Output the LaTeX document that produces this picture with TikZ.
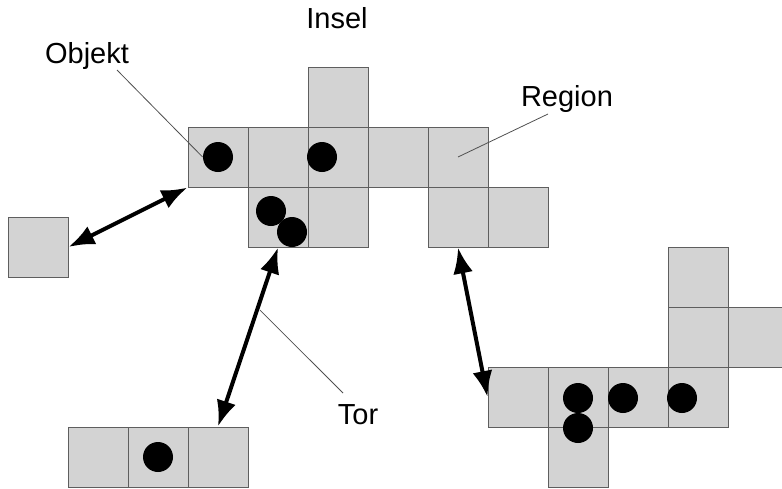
\documentclass[tikz,border=0pt]{standalone}
\usepackage{fontspec}
\setmainfont{Liberation Sans}
\usepackage{tikz}
\usetikzlibrary{arrows.meta, calc}
\definecolor{cellFill}{HTML}{D3D3D3}
\definecolor{cellLine}{HTML}{5E5E5E}
\definecolor{leaderLine}{HTML}{505050}

\begin{document}
\begin{tikzpicture}[
	x=0.5pt, y=-0.5pt,
	cell/.style={rectangle, draw=cellLine, fill=cellFill, line width=0.5pt, minimum size=30pt, inner sep=0pt},
	obj/.style={circle, fill=black, minimum size=15pt, inner sep=0pt},
	arrow/.style={{Latex[length=13pt,width=10pt]}-{Latex[length=13pt,width=10pt]}, line width=2pt},
	leader/.style={leaderLine, line width=0.4pt},
	lbl/.style={font=\fontsize{14.5}{17}\selectfont, anchor=base, inner sep=0pt}
	]
	
	\useasboundingbox (0,0) rectangle (782,488);
	
	% Insel
	\foreach \n/\x/\y in {i1/218/157, i2/278/157, i3/338/157, i4/398/157, i5/458/157,
		i6/338/97, i7/278/217, i8/338/217, i9/458/217, i10/518/217}
		\node[cell] (\n) at (\x,\y) {};
	
	% single cell
	\node[cell] (solo) at (38,247) {};
	
	% lower left
	\foreach \n/\x/\y in {b1/98/457, b2/158/457, b3/218/457}
		\node[cell] (\n) at (\x,\y) {};
	
	% right
	\foreach \n/\x/\y in {r1/698/277, r2/698/337, r3/758/337, r4/518/397,
		r5/578/397, r6/638/397, r7/698/397, r8/578/457}
		\node[cell] (\n) at (\x,\y) {};
	
	% Objekte
	\node[obj] (o1) at (218,157) {};
	\node[obj] (o2) at (322,157) {};
	\node[obj] (o3) at (271,211) {};
	\node[obj] (o4) at (292,232) {};
	\node[obj] (o5) at (158,457) {};
	\node[obj] (o6) at (578,398) {};
	\node[obj] (o7) at (578,428) {};
	\node[obj] (o8) at (623,398) {};
	\node[obj] (o9) at (682,398) {};
	
	% Tore
	\draw[arrow] (i1.south west) -- (solo.east);
	\draw[arrow] (i7.south) -- coordinate[pos=.35] (torPt) (b3.north);
	\draw[arrow] (i9.south) -- (r4.west);
	
	% Labels
	\node[lbl] (insel) at (337,28) {Insel};
	\node[lbl] (objekt) at (87,63) {Objekt};
	\node[lbl] (region) at (567,106) {Region};
	\node[lbl] (tor) at (358,424) {Tor};
	
	\draw[leader] ($(objekt.base) + (30,7)$) -- (o1.west);
	\draw[leader] ($(region.base) + (-19,8)$) -- (i5.center);
	\draw[leader] ($(tor.base) + (-15,-31)$) -- ($(torPt) + (3,0)$);
\end{tikzpicture}
\end{document}
